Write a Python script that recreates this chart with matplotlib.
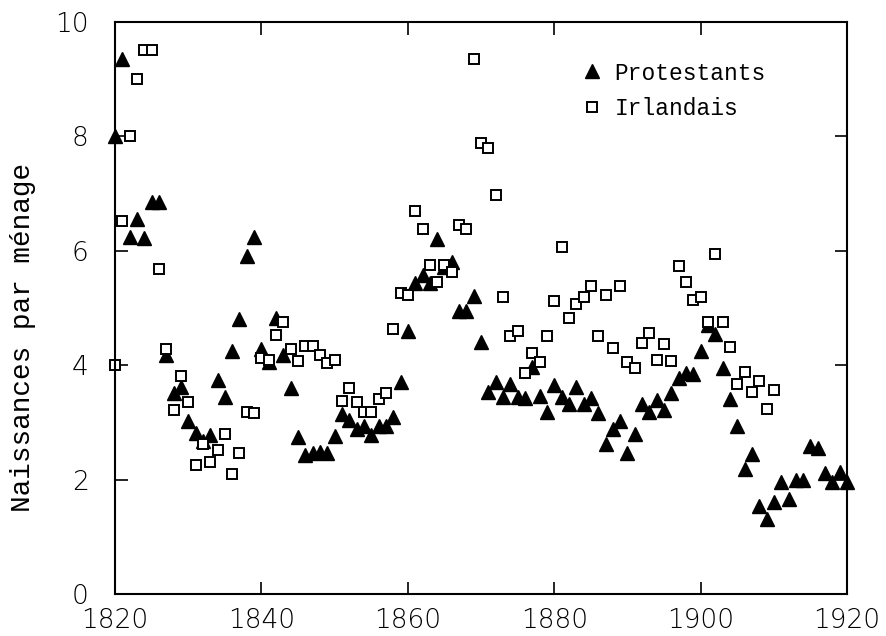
import numpy as np
import matplotlib
matplotlib.use("Agg")
import matplotlib.pyplot as plt

# Protestants, one value per year 1820-1920
prot_years = np.arange(1820, 1921)
prot_vals = [
    8.0, 9.35, 6.24, 6.55, 6.22, 6.86, 6.86, 4.18, 3.52, 3.62,   # 1820-29
    3.03, 2.82, 2.68, 2.78, 3.74, 3.45, 4.25, 4.80, 5.91, 6.24,  # 1830-39
    4.28, 4.06, 4.82, 4.18, 3.60, 2.74, 2.43, 2.46, 2.49, 2.46,  # 1840-49
    2.76, 3.15, 3.05, 2.88, 2.93, 2.78, 2.94, 2.94, 3.09, 3.70,  # 1850-59
    4.59, 5.43, 5.58, 5.44, 6.20, 5.72, 5.81, 4.94, 4.95, 5.21,  # 1860-69
    4.41, 3.54, 3.71, 3.44, 3.68, 3.44, 3.42, 3.97, 3.46, 3.19,  # 1870-79
    3.65, 3.45, 3.33, 3.62, 3.33, 3.42, 3.16, 2.62, 2.88, 3.03,  # 1880-89
    2.47, 2.80, 3.33, 3.19, 3.40, 3.22, 3.51, 3.77, 3.86, 3.85,  # 1890-99
    4.25, 4.70, 4.55, 3.96, 3.41, 2.94, 2.18, 2.45, 1.54, 1.31,  # 1900-09
    1.61, 1.96, 1.66, 1.99, 1.99, 2.58, 2.56, 2.11, 1.95, 2.14,  # 1910-19
    1.95,                                                        # 1920
]

# Irlandais, one value per year 1820-1910
irl_years = np.arange(1820, 1911)
irl_vals = [
    4.0, 6.52, 8.0, 9.0, 9.51, 9.51, 5.69, 4.28, 3.22, 3.81,     # 1820-29
    3.35, 2.26, 2.62, 2.30, 2.51, 2.79, 2.10, 2.46, 3.19, 3.16,  # 1830-39
    4.12, 4.09, 4.52, 4.76, 4.29, 4.08, 4.34, 4.34, 4.18, 4.04,  # 1840-49
    4.09, 3.38, 3.61, 3.35, 3.19, 3.19, 3.41, 3.51, 4.63, 5.27,  # 1850-59
    5.23, 6.70, 6.38, 5.75, 5.46, 5.75, 5.63, 6.45, 6.38, 9.35,  # 1860-69
    7.88, 7.79, 6.98, 5.20, 4.51, 4.59, 3.86, 4.22, 4.06, 4.51,  # 1870-79
    5.13, 6.06, 4.83, 5.07, 5.19, 5.38, 4.51, 5.23, 4.30, 5.38,  # 1880-89
    4.06, 3.95, 4.38, 4.56, 4.09, 4.37, 4.07, 5.73, 5.46, 5.14,  # 1890-99
    5.19, 4.76, 5.94, 4.76, 4.32, 3.67, 3.89, 3.54, 3.72, 3.23,  # 1900-09
    3.57,                                                        # 1910
]

xticks = [1820, 1840, 1860, 1880, 1900, 1920]
yticks = [0, 2, 4, 6, 8, 10]

mono = "Liberation Mono"
sans = "DejaVu Sans"

fig = plt.figure(figsize=(8.87, 6.36), dpi=100)
ax = fig.add_axes([0.1297, 0.066, 0.8253, 0.8994])

ax.plot(prot_years, prot_vals, linestyle="none", marker="^", markersize=10.5,
        color="black", clip_on=False, label="Protestants")
ax.plot(irl_years, irl_vals, linestyle="none", marker="s", markersize=7,
        markerfacecolor="white", markeredgecolor="black", markeredgewidth=1.4,
        clip_on=False, label="Irlandais")

ax.set_xlim(1820, 1920)
ax.set_ylim(0, 10)
ax.set_xticks(xticks)
ax.set_yticks(yticks)
ax.set_xticklabels([str(t) for t in xticks], fontsize=19, family=sans,
                   weight="light")
ax.set_yticklabels([str(t) for t in yticks], fontsize=19, family=sans,
                   weight="light")
ax.tick_params(axis="both", direction="in", length=9, width=1.2,
               top=True, right=True)
ax.tick_params(axis="x", pad=10)
ax.tick_params(axis="y", pad=19)
for s in ax.spines.values():
    s.set_linewidth(1.5)

fig.text(23 / 887, 1 - 337 / 636, "Naissances par ménage", rotation=90,
         ha="center", va="center", fontsize=20, family=mono)

leg = ax.legend(loc="upper right", bbox_to_anchor=(0.917, 0.967), frameon=False,
                prop={"family": mono, "size": 16.5}, handletextpad=0.5,
                labelspacing=0.55, handlelength=1.0, numpoints=1)

fig.savefig("out.png", dpi=100)
